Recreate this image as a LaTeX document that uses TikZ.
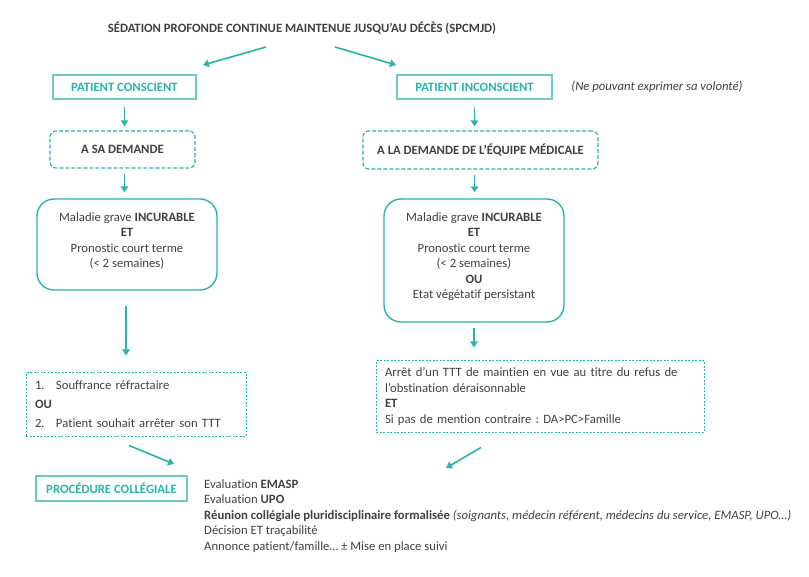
\documentclass[tikz,border=0pt]{standalone}
\usepackage{fontspec}
\setmainfont{Carlito}[Ligatures=NoCommon]
\usetikzlibrary{arrows.meta,positioning}
\definecolor{turquoise}{RGB}{40,180,172}
\definecolor{turquoiseclair}{RGB}{105,204,197}
\definecolor{texte}{RGB}{64,64,64}
\tikzset{
  fleche/.style={draw=turquoise,line width=1.6pt,-{Triangle[length=6pt,width=7.5pt]}},
  cadre/.style={draw=turquoiseclair,line width=2pt,font=\bfseries,text=turquoise,inner sep=0pt},
  demande/.style={draw=turquoise,dash pattern=on 4pt off 2pt,line width=1.2pt,rounded corners=6pt,font=\bfseries,inner sep=0pt},
  critere/.style={draw=turquoise,line width=1.4pt,rounded corners=17pt,align=center,inner sep=0pt},
  condition/.style={draw=turquoise,dash pattern=on 2pt off 1.5pt,line width=1pt,align=left,inner sep=0pt},
}
\begin{document}
\fontsize{12.7}{15.5}\selectfont\frenchspacing
\begin{tikzpicture}[x=1pt,y=-1pt,text=texte]
\useasboundingbox (0,0) rectangle (809,577);
% Titre
\node at(302,28)(titre){\bfseries S\'EDATION PROFONDE CONTINUE MAINTENUE JUSQU’AU D\'EC\`ES (SPCMJD)};
\coordinate (titre_g) at (266,47);
\coordinate (titre_d) at (335,47);
% Patient
\node[cadre,minimum width=143pt,minimum height=24pt]at(124.5,87)(conscient){PATIENT CONSCIENT};
\node[cadre,minimum width=155pt,minimum height=24pt]at(474.5,87)(inconscient){PATIENT INCONSCIENT};
\node[anchor=west,font=\itshape]at(567,87)(remarque){(Ne pouvant exprimer sa volont\'e)};
% Demande
\node[demande,minimum width=145pt,minimum height=37pt]at(122.5,149.5)(demande1){A SA DEMANDE};
\node[demande,minimum width=235pt,minimum height=38pt]at(480.5,150)(demande2){A LA DEMANDE DE L’\'EQUIPE M\'EDICALE};
% Criteres
\node[critere,minimum width=180pt,minimum height=91pt]at(127,244.5)(maladie1){Maladie grave \textbf{INCURABLE}\\\textbf{ET}\\Pronostic court terme\\(< 2 semaines)\\[-7pt]\mbox{}};
\node[critere,minimum width=180pt,minimum height=123pt]at(474,260.5)(maladie2){Maladie grave \textbf{INCURABLE}\\\textbf{ET}\\Pronostic court terme\\(< 2 semaines)\\\textbf{OU}\\Etat v\'eg\'etatif persistant\\[-6pt]\mbox{}};
% Conditions
\node[condition,minimum width=220pt,minimum height=63pt,text width=202pt]at(136,404.5)(cond1){\makebox[21pt][l]{1.}Souffrance r\'efractaire\\[3.5pt]\textbf{OU}\\[3.5pt]\makebox[21pt][l]{2.}Patient souhait arr\^eter son TTT};
\node[condition,minimum width=328pt,minimum height=71pt,text width=310pt]at(540,396.5)(cond2){Arr\^et d’un TTT de maintien en vue au titre du refus de\\l’obstination d\'eraisonnable\\\textbf{ET}\\Si pas de mention contraire : DA>PC>Famille};
% Procedure
\node[cadre,minimum width=151pt,minimum height=25pt]at(111.5,488.5)(procedure){PROC\'EDURE COLL\'EGIALE};
\node[anchor=north west,align=left,inner sep=0pt]at(204,479)(liste){Evaluation \textbf{EMASP}\\Evaluation \textbf{UPO}\\\textbf{R\'eunion coll\'egiale pluridisciplinaire formalis\'ee} \textit{(soignants, m\'edecin r\'ef\'erent, m\'edecins du service, EMASP, UPO…)}\\D\'ecision ET tra\c{c}abilit\'e\\Annonce patient/famille… ± Mise en place suivi};
\coordinate (fin_droite) at (446,468);
% Fleches
\draw[fleche](titre_g) to ([xshift=6pt,yshift=9pt]conscient.north east);
\draw[fleche](titre_d) to ([xshift=-0pt,yshift=9pt]inconscient.north west);
\draw[fleche,shorten <=7pt,shorten >=4pt](conscient.south) to (conscient.south |- demande1.north);
\draw[fleche,shorten <=5pt,shorten >=6pt](conscient.south |- demande1.south) to (conscient.south |- maladie1.north);
\draw[fleche,shorten <=15pt,shorten >=17pt]([xshift=-1pt]maladie1.south) to ([xshift=-1pt]maladie1.south |- cond1.north);
\draw[fleche]([xshift=-7pt,yshift=-9pt]cond1.south) to ([xshift=-14pt,yshift=11pt]procedure.north east);
\draw[fleche,shorten <=7pt,shorten >=4pt](inconscient.south) to (inconscient.south |- demande2.north);
\draw[fleche,shorten <=5pt,shorten >=6pt](inconscient.south |- demande2.south) to (inconscient.south |- maladie2.north);
\draw[fleche,shorten <=5pt,shorten >=13pt](maladie2.south) to (maladie2.south |- cond2.north);
\draw[fleche]([xshift=-59pt,yshift=-15pt]cond2.south) to (fin_droite);
\end{tikzpicture}
\end{document}
